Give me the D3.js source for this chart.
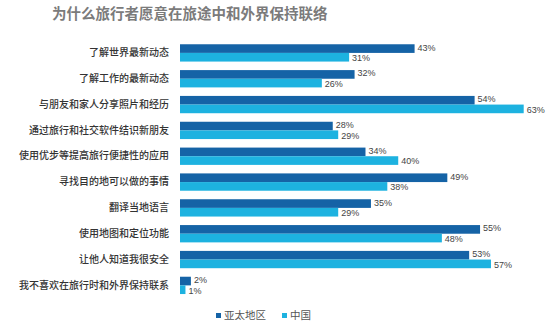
<!DOCTYPE html>
<html>
<head>
<meta charset="utf-8">
<script src="https://cdn.jsdelivr.net/npm/d3@7"></script>
<style>
  html, body { margin: 0; padding: 0; background: #fff; }
  svg { display: block; font-family: "Noto Sans CJK SC", "Noto Sans", sans-serif; }
</style>
</head>
<body>
<svg id="chart" width="550" height="332"></svg>
<script>
const title = "为什么旅行者愿意在旅途中和外界保持联络";
const categories = [
  "了解世界最新动态",
  "了解工作的最新动态",
  "与朋友和家人分享照片和经历",
  "通过旅行和社交软件结识新朋友",
  "使用优步等提高旅行便捷性的应用",
  "寻找目的地可以做的事情",
  "翻译当地语言",
  "使用地图和定位功能",
  "让他人知道我很安全",
  "我不喜欢在旅行时和外界保持联系"
];
const seriesNames = ["亚太地区", "中国"];
const apacValues  = [43, 32, 54, 28, 34, 49, 35, 55, 53, 2];
const chinaValues = [31, 26, 63, 29, 40, 38, 29, 48, 57, 1];
const colors = ["#1563a6", "#1db2e0"];

const svg = d3.select("#chart");

svg.append("text")
  .attr("x", 52).attr("y", 19)
  .attr("font-size", 14.5).attr("font-weight", 700)
  .attr("fill", "#7b7b7b")
  .text(title);

const x = d3.scaleLinear().domain([0, 63]).range([180, 523.7]);
const y = d3.scaleBand().domain(categories).range([40, 298.3])
  .paddingInner(0.33).paddingOuter(0.165);
const sub = d3.scaleBand().domain([0, 1]).range([0, y.bandwidth()]);

const rows = categories.map((c, i) => ({ cat: c, vals: [apacValues[i], chinaValues[i]] }));

const g = svg.append("g");
const row = g.selectAll("g.row").data(rows).join("g")
  .attr("class", "row")
  .attr("transform", d => `translate(0,${y(d.cat)})`);

row.selectAll("rect").data(d => d.vals).join("rect")
  .attr("x", x(0))
  .attr("y", (v, j) => sub(j))
  .attr("width", v => x(v) - x(0))
  .attr("height", sub.bandwidth())
  .attr("fill", (v, j) => colors[j]);

// value labels just past each bar end
row.selectAll("text.val").data(d => d.vals).join("text")
  .attr("class", "val")
  .attr("x", v => x(v) + 3)
  .attr("y", (v, j) => sub(j) + sub.bandwidth() / 2 + (j === 0 ? -0.3 : 1.5))
  .attr("dominant-baseline", "middle")
  .attr("font-family", "'Liberation Sans', Arial, sans-serif")
  .attr("font-size", 9)
  .attr("fill", "#444")
  .text(v => v + "%");

// category axis on the left, drawn with d3's axis generator
const axis = d3.axisLeft(y).tickSize(0).tickPadding(11);
const ag = svg.append("g").attr("transform", `translate(${x(0)},0)`).call(axis);
ag.select(".domain").remove();
ag.selectAll("text")
  .attr("font-family", "'Noto Sans CJK SC', sans-serif")
  .attr("font-size", 10)
  .attr("font-weight", 500)
  .attr("fill", "#333");

// legend
const legendX = [216, 282];
const lg = svg.append("g");
seriesNames.forEach((n, i) => {
  lg.append("rect")
    .attr("x", legendX[i]).attr("y", 313)
    .attr("width", 5).attr("height", 5)
    .attr("fill", colors[i]);
  lg.append("text")
    .attr("x", legendX[i] + 8).attr("y", 316)
    .attr("dominant-baseline", "middle")
    .attr("font-size", 10.5).attr("fill", "#555")
    .text(n);
});
</script>
</body>
</html>
